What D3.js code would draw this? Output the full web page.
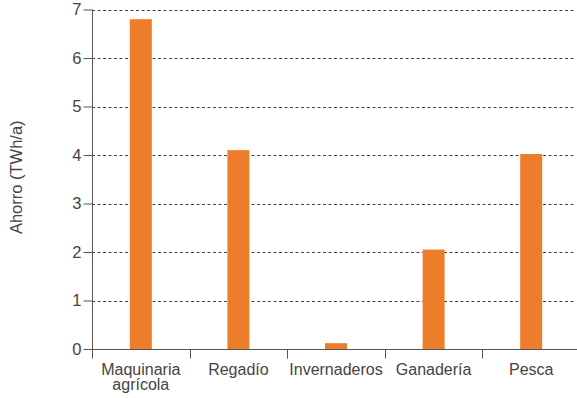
<!DOCTYPE html>
<html>
<head>
<meta charset="utf-8">
<script src="https://cdn.jsdelivr.net/npm/d3@7"></script>
<style>
  html, body { margin: 0; padding: 0; background: #fff; }
  svg { display: block; font-family: "Liberation Sans", Arial, Helvetica, sans-serif; }
</style>
</head>
<body>
<svg id="chart" width="577" height="398"></svg>
<script>
const categories = [["Maquinaria", "agrícola"], ["Regadío"], ["Invernaderos"], ["Ganadería"], ["Pesca"]];
const values = [6.8, 4.1, 0.12, 2.05, 4.02];
const yTicks = [0, 1, 2, 3, 4, 5, 6, 7];
const yLabel = "Ahorro (TWh/a)";

(function () {
const svg = d3.select("#chart");
const mLeft = 92, mRight = 580, mTop = 9.5, mBottom = 349;
const axisColor = "#555";
const textColor = "#444";

const keys = categories.map(c => c.join(" "));
const x = d3.scaleBand().domain(keys).range([mLeft, mRight]).paddingInner(0).paddingOuter(0);
const y = d3.scaleLinear().domain([0, 7]).range([mBottom, mTop]);

// gridlines
svg.append("g").selectAll("line").data(yTicks.filter(t => t > 0)).join("line")
  .attr("x1", mLeft).attr("x2", 576)
  .attr("y1", d => Math.round(y(d)) + 0.5).attr("y2", d => Math.round(y(d)) + 0.5)
  .attr("stroke", "#444").attr("stroke-width", 1).attr("stroke-dasharray", "3,2.5");

// bars
const barW = 22;
svg.append("g").selectAll("rect").data(values).join("rect")
  .attr("x", (d, i) => x(keys[i]) + x.bandwidth() / 2 - barW / 2)
  .attr("width", barW)
  .attr("y", d => y(d))
  .attr("height", d => y(0) - y(d))
  .attr("fill", "#EE7D2B");

// y axis
const yAxis = d3.axisLeft(y).tickValues(yTicks).tickSize(9).tickPadding(2).tickFormat(d3.format("d"));
const gy = svg.append("g").attr("transform", `translate(${mLeft + 0.5},0)`).call(yAxis);
gy.select(".domain").attr("stroke", axisColor).attr("d", `M0,${y(7)}V${mBottom}`);
gy.selectAll(".tick line").attr("stroke", axisColor);
gy.selectAll(".tick text").attr("fill", textColor).style("font-size", "16.5px");

// x axis
const xAxis = d3.axisBottom(x).tickSize(0).tickFormat(() => "");
const gx = svg.append("g").attr("transform", `translate(0,${mBottom + 0.5})`).call(xAxis);
gx.select(".domain").attr("stroke", axisColor).attr("d", `M${mLeft},0H577`);
const bounds = keys.map(k => x(k));
gx.selectAll(".btick").data(bounds).join("line").attr("class", "btick")
  .attr("x1", d => Math.round(d) + 0.5).attr("x2", d => Math.round(d) + 0.5)
  .attr("y1", -0.5).attr("y2", 9).attr("stroke", axisColor);
const lab = gx.selectAll(".clab").data(categories).join("g").attr("class", "clab");
lab.selectAll("text").data((d, i) => d.map((t, j) => ({ t, j, i }))).join("text")
  .attr("x", d => x(keys[d.i]) + x.bandwidth() / 2)
  .attr("y", d => 25 + d.j * 15)
  .attr("text-anchor", "middle").attr("fill", textColor)
  .style("font-size", "16px")
  .text(d => d.t);

// y label
svg.append("text")
  .attr("transform", `translate(22,${(mTop + mBottom) / 2 - 2}) rotate(-90)`)
  .attr("text-anchor", "middle").attr("fill", textColor)
  .style("font-size", "16.5px")
  .text(yLabel);
})();
</script>
</body>
</html>
